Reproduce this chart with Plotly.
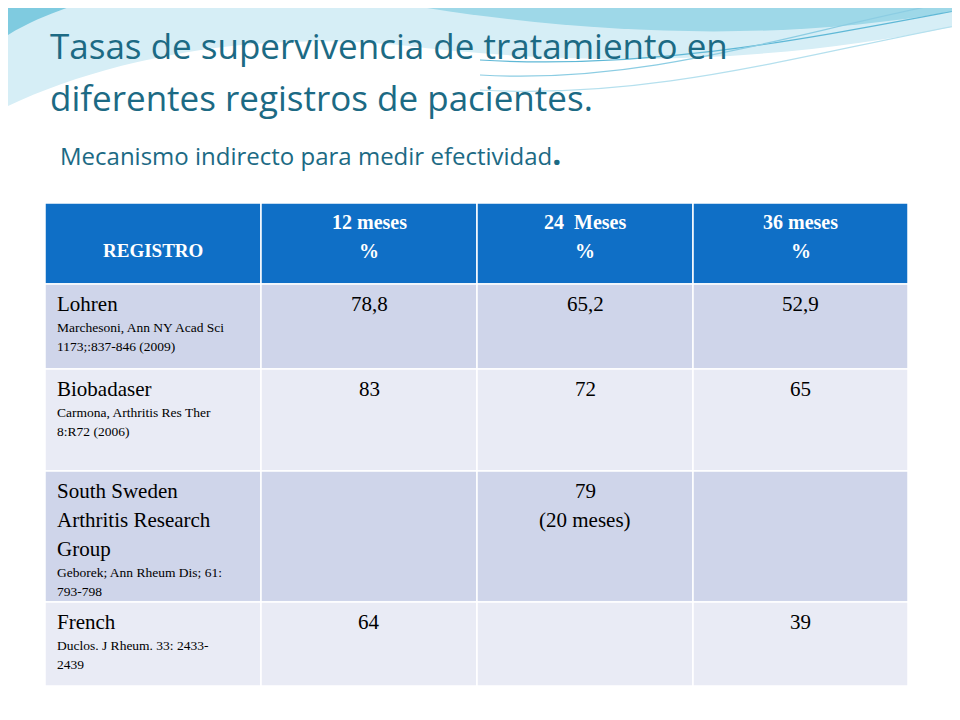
import plotly.graph_objects as go

title_lines = ["Tasas de supervivencia de tratamiento en", "diferentes registros de pacientes."]
subtitle = "Mecanismo indirecto para medir efectividad"
headers = [["REGISTRO"], ["12 meses", "%"], ["24  Meses", "%"], ["36 meses", "%"]]
reg_names = [["Lohren"], ["Biobadaser"], ["South Sweden", "Arthritis Research", "Group"], ["French"]]
reg_refs = [["Marchesoni, Ann NY Acad Sci", "1173;:837-846 (2009)"],
            ["Carmona, Arthritis Res Ther", "8:R72 (2006)"],
            ["Geborek; Ann Rheum Dis; 61:", "793-798"],
            ["Duclos. J Rheum. 33: 2433-", "2439"]]
m12 = [["78,8"], ["83"], [], ["64"]]
m24 = [["65,2"], ["72"], ["79", "(20 meses)"], []]
m36 = [["52,9"], ["65"], [], ["39"]]

W, H = 944, 704
OFF = 8
def px(x): return (x - OFF) / W
def py(y): return 1 - (y - OFF) / H

col_edges = [45, 261, 477, 693, 908]
row_edges = [203, 284, 369, 471, 602, 686]
row_fill = ["#CFD5EA", "#E9EBF5"]

shapes = []
ann = []
def path(d): return dict(type="path", xref="paper", yref="paper", path=d, layer="below")
s = path(f"M {px(0)},{py(0)} L {px(960)},{py(0)} L {px(960)},{py(25)} C {px(800)},{py(60)} {px(600)},{py(70)} {px(400)},{py(45)} C {px(250)},{py(30)} {px(100)},{py(60)} {px(0)},{py(110)} Z")
s.update(fillcolor="#D6EEF6", line=dict(width=0)); shapes.append(s)
s = path(f"M {px(380)},{py(0)} L {px(960)},{py(0)} L {px(960)},{py(10)} C {px(800)},{py(40)} {px(600)},{py(40)} {px(380)},{py(0)} Z")
s.update(fillcolor="#9ED8E8", line=dict(width=0)); shapes.append(s)
s = path(f"M {px(0)},{py(40)} C {px(30)},{py(20)} {px(60)},{py(10)} {px(90)},{py(0)} L {px(0)},{py(0)} Z")
s.update(fillcolor="#7FCBE0", line=dict(width=0)); shapes.append(s)
for (a, b, c) in [(60, 40, "#5FB8D6"), (75, 30, "#8CCDE3"), (90, 55, "#B5E0EE")]:
    s = path(f"M {px(480)},{py(a)} C {px(650)},{py(a+10)} {px(800)},{py(b)} {px(960)},{py(b-30)}")
    s.update(line=dict(color=c, width=1.2)); shapes.append(s)

for r in range(5):
    for c in range(4):
        fill = "#0F6FC6" if r == 0 else row_fill[(r - 1) % 2]
        shapes.append(dict(type="rect", xref="paper", yref="paper",
            x0=px(col_edges[c]), x1=px(col_edges[c+1]),
            y0=py(row_edges[r+1]), y1=py(row_edges[r]),
            fillcolor=fill, line=dict(color="white", width=1.5)))

serif = "Liberation Serif"
def txt(x, y, t, size, color="black", xanchor="center", bold=False, fam=serif):
    ann.append(dict(x=px(x), y=py(y), xref="paper", yref="paper", xanchor=xanchor, yanchor="middle",
        text=f"<b>{t}</b>" if bold else t, showarrow=False,
        font=dict(family=fam, size=size, color=color)))

for c, h in enumerate(headers):
    cx = (col_edges[c] + col_edges[c+1]) / 2
    if c == 0:
        txt(cx, 250, h[0], 19, "white", bold=True)
    else:
        for k, line in enumerate(h):
            txt(cx, 222 + k * 29, line, 20, "white", bold=True)

for i in range(4):
    top = row_edges[i+1]
    y = top + 20
    for line in reg_names[i]:
        txt(55, y, line, 21, xanchor="left"); y += 29
    y -= 6
    for line in reg_refs[i]:
        txt(55, y, line, 13.5, xanchor="left"); y += 19
    for c, vals in enumerate([m12, m24, m36]):
        cx = (col_edges[c+1] + col_edges[c+2]) / 2
        for k, v in enumerate(vals[i]):
            txt(cx, top + 20 + k * 29, v, 21)

tcol = "#1C6A84"
txt(48, 46, title_lines[0], 35, tcol, xanchor="left", fam="Open Sans")
txt(48, 97, title_lines[1], 35, tcol, xanchor="left", fam="Open Sans")
ann.append(dict(x=px(58), y=py(152), xref="paper", yref="paper", xanchor="left", yanchor="middle",
    text=subtitle + "<span style='font-size:32px'><b>.</b></span>",
    showarrow=False, font=dict(family="Open Sans", size=24, color=tcol)))

fig = go.Figure()
fig.update_layout(width=W, height=H, margin=dict(l=0, r=0, t=0, b=0),
    paper_bgcolor="white", plot_bgcolor="white", shapes=shapes, annotations=ann,
    xaxis=dict(visible=False), yaxis=dict(visible=False))
fig.write_html("out.html")
